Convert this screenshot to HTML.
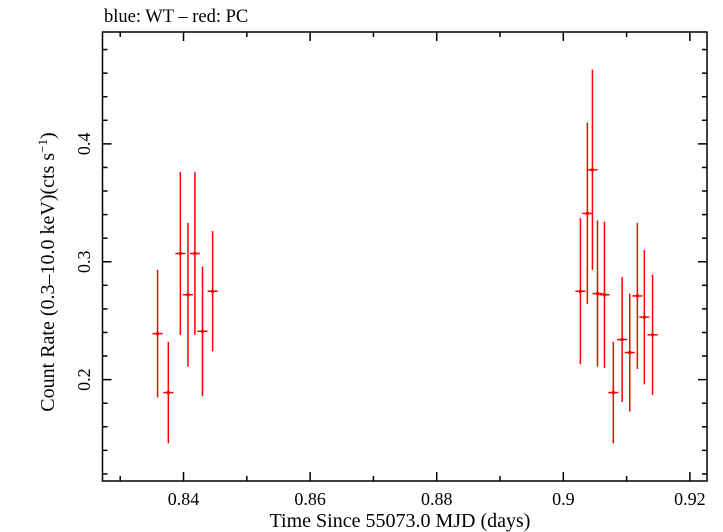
<!DOCTYPE html>
<html><head><meta charset="utf-8"><style>
html,body{margin:0;padding:0;background:#fff;}
svg{display:block;font-family:"Liberation Serif",serif;}
</style></head><body>
<svg id="chart" width="723" height="532" viewBox="0 0 723 532" xmlns="http://www.w3.org/2000/svg">
<text x="104" y="22" font-size="18.5">blue: WT – red: PC</text>
<rect x="102.5" y="32" width="604.5" height="449" fill="none" stroke="#000" stroke-width="1.5"/>
<g id="ticks"></g>
<g id="marks"></g>
<text x="400" y="527" font-size="20" text-anchor="middle">Time Since 55073.0 MJD (days)</text>
<text transform="translate(54,272) rotate(-90)" font-size="20" text-anchor="middle">Count Rate (0.3–10.0 keV)(cts s<tspan font-size="13" dy="-7">−1</tspan><tspan dy="7">)</tspan></text>
</svg>
<script>
const times = [0.8359,0.8376,0.8395,0.8407,0.8418,0.8430,0.8446,0.9027,0.9038,0.9046,0.9054,0.9065,0.9079,0.9093,0.9105,0.9117,0.9128,0.9141];
const rates = [0.239,0.189,0.307,0.272,0.307,0.241,0.275,0.275,0.341,0.378,0.273,0.272,0.189,0.234,0.223,0.271,0.253,0.238];
const rateErrs = [0.054,0.043,0.069,0.061,0.069,0.055,0.051,0.062,0.077,0.085,0.062,0.062,0.043,0.053,0.050,0.062,0.057,0.051];
const timeErrs = [0.0008,0.0008,0.0008,0.0008,0.0008,0.0008,0.0008,0.0008,0.0008,0.0008,0.0008,0.0008,0.0008,0.0008,0.0008,0.0008,0.0008,0.0008];
const xTickLabels = [0.84,0.86,0.88,0.90,0.92];
const yTickLabels = [0.2,0.3,0.4];

const X0=102.5,X1=707,Y0=481,Y1=32;
const xMin=0.8272,xMax=0.9227,yMin=0.1140,yMax=0.4949;
const xs=v=>X0+(v-xMin)/(xMax-xMin)*(X1-X0);
const ys=v=>Y0-(v-yMin)/(yMax-yMin)*(Y0-Y1);
const NS="http://www.w3.org/2000/svg";
function mk(tag,attrs,parent){const e=document.createElementNS(NS,tag);for(const k in attrs)e.setAttribute(k,attrs[k]);parent.appendChild(e);return e;}
const tg=document.getElementById('ticks');
function line(x1,y1,x2,y2){return mk('line',{x1,y1,x2,y2,stroke:'#000','stroke-width':1.5},tg);}
for(let i=83;i<=92;i++){const v=i/100;const x=xs(v);const major=(i%2===0);const L=major?9:5;
 const a=line(x,Y0,x,Y0-L);
 const b=line(x,Y1,x,Y1+L);}
xTickLabels.forEach(v=>{const t=mk('text',{x:xs(v),y:505,'font-size':18,'text-anchor':'middle'},tg);t.textContent=(v===0.9?'0.9':String(v));
 });
for(let i=6;i<=24;i++){const v=i/50;if(v<yMin||v>yMax)continue;const y=ys(v);const major=(i%5===0);const L=major?9:5;
 const a=line(X0,y,X0+L,y);
 const b=line(X1,y,X1-L,y);}
yTickLabels.forEach(v=>{const y=ys(v);const t=mk('text',{transform:`translate(90,${y}) rotate(-90)`,'font-size':18,'text-anchor':'middle'},tg);t.textContent=String(v);
 });
const mg=document.getElementById('marks');
times.forEach((t,i)=>{const x=xs(t),y=ys(rates[i]);
 const g=mk('g',{},mg);
 
 
 mk('line',{x1:x,y1:ys(rates[i]+rateErrs[i]),x2:x,y2:ys(rates[i]-rateErrs[i]),stroke:'#f00','stroke-width':1.5},g);
 mk('line',{x1:xs(t-timeErrs[i]),y1:y,x2:xs(t+timeErrs[i]),y2:y,stroke:'#f00','stroke-width':1.5},g);
 mk('rect',{x:x-1.5,y:y-1.5,width:3,height:3,fill:'#f00'},g);
});
</script>
</body></html>
